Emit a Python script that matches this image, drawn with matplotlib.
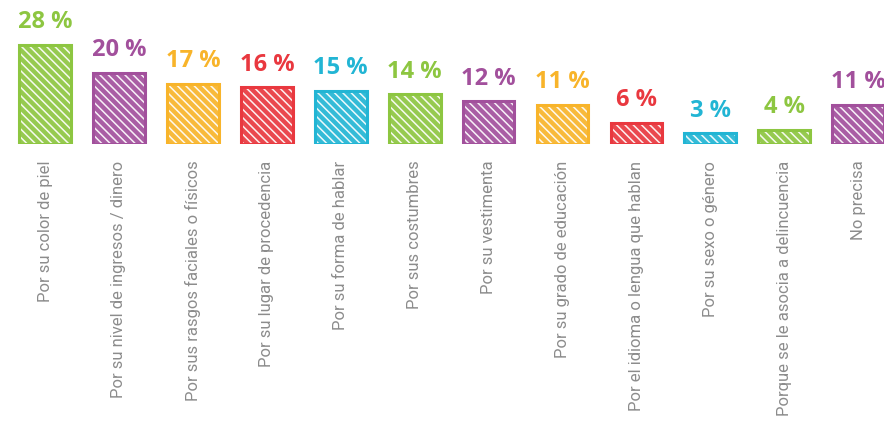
import matplotlib
matplotlib.use("Agg")
import matplotlib.pyplot as plt

categories = [
    "Por su color de piel",
    "Por su nivel de ingresos / dinero",
    "Por sus rasgos faciales o físicos",
    "Por su lugar de procedencia",
    "Por su forma de hablar",
    "Por sus costumbres",
    "Por su vestimenta",
    "Por su grado de educación",
    "Por el idioma o lengua que hablan",
    "Por su sexo o género",
    "Porque se le asocia a delincuencia",
    "No precisa",
]
values = [28, 20, 17, 16, 15, 14, 12, 11, 6, 3, 4, 11]
value_labels = ["28 %", "20 %", "17 %", "16 %", "15 %", "14 %", "12 %", "11 %", "6 %", "3 %", "4 %", "11 %"]

GREEN = "#8dc641"
PURPLE = "#a2509c"
ORANGE = "#f8b42a"
RED = "#e9383f"
BLUE = "#22b5d4"
colors = [GREEN, PURPLE, ORANGE, RED, BLUE, GREEN, PURPLE, ORANGE, RED, BLUE, GREEN, PURPLE]

W, H = 884, 421
fig = plt.figure(figsize=(W / 100, H / 100), dpi=100)
bottom_px = 144
ax = fig.add_axes([0, (H - bottom_px) / H, 1, bottom_px / H])
ax.set_xlim(-0.61, 11.35)
ax.set_ylim(0, bottom_px / 3.55)

x = list(range(len(values)))
plt.rcParams['hatch.linewidth'] = 1.1
ax.bar(x, values, width=0.7, color=colors, edgecolor="white", hatch="\\\\\\\\", linewidth=0, alpha=0.92)
ax.bar(x, values, width=0.7, fill=False, edgecolor=colors, linewidth=2.2)

for xi, v, lab, c in zip(x, values, value_labels, colors):
    ax.annotate(lab, (xi, v), xytext=(0, 12), textcoords="offset points",
                ha="center", va="baseline", fontsize=17, fontweight="bold",
                color=c, family=["Open Sans", "DejaVu Sans"])

ax.set_xticks(x)
ax.set_xticklabels(categories, rotation=90, va="top", ha="center",
                   fontsize=12, color="#8c8c8c",
                   family=["Roboto", "DejaVu Sans"])
ax.tick_params(axis="x", length=0, pad=12)
ax.set_yticks([])
for s in ax.spines.values():
    s.set_visible(False)

fig.savefig("out.png", dpi=100, facecolor="white")
